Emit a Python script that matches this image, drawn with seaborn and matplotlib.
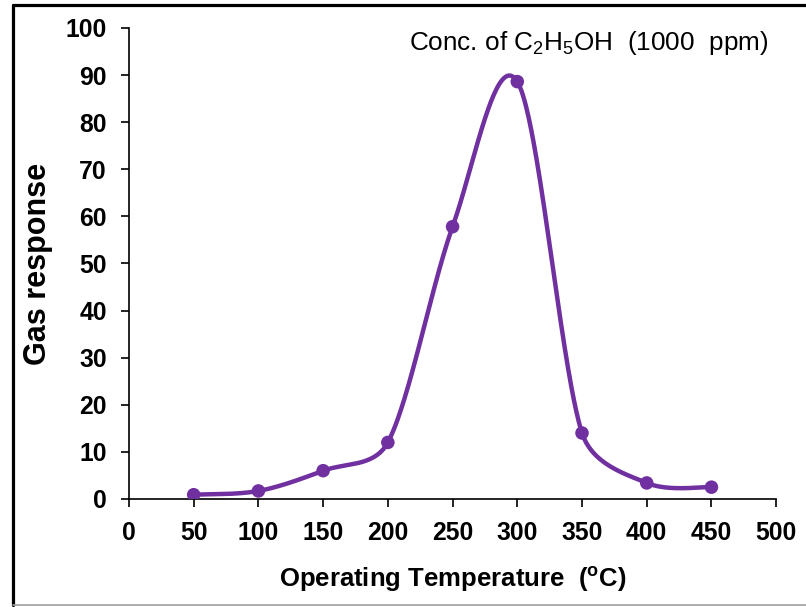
import numpy as np
import pandas as pd
import matplotlib
matplotlib.use("Agg")
import matplotlib.pyplot as plt
from matplotlib.lines import Line2D
import seaborn as sns

# Operating temperature (°C) and measured gas response
temperature = [50, 100, 150, 200, 250, 300, 350, 400, 450]
response = [0.9, 1.7, 6.0, 12.0, 57.8, 88.6, 14.0, 3.4, 2.5]

x_ticks = [0, 50, 100, 150, 200, 250, 300, 350, 400, 450, 500]
y_ticks = [0, 10, 20, 30, 40, 50, 60, 70, 80, 90, 100]

PURPLE = "#7030A0"

sns.set_theme(style="ticks")
plt.rcParams["font.family"] = ["Liberation Sans", "DejaVu Sans"]
plt.rcParams["mathtext.fontset"] = "custom"
plt.rcParams["mathtext.rm"] = "Liberation Sans"
plt.rcParams["mathtext.bf"] = "Liberation Sans:bold"
plt.rcParams["mathtext.it"] = "Liberation Sans:italic"

fig = plt.figure(figsize=(8.06, 6.07), dpi=100)
ax = fig.add_axes([0.160, 0.178, 0.803, 0.776])
ax.set_xlim(0, 500)
ax.set_ylim(0, 100)


def smooth_curve(xs, ys, ax, max_arm=0.4, n=80):
    """Catmull-Rom style Bezier smoothing in display space; each control
    arm is capped at a fraction of its own segment length."""
    pts = np.column_stack([xs, ys]).astype(float)
    disp = ax.transData.transform(pts)
    ext = np.vstack([disp[0], disp, disp[-1]])
    t = np.linspace(0, 1, n)[:, None]

    def cap(v, limit):
        length = np.hypot(*v)
        return v * (limit / length) if length > limit else v

    out = []
    for i in range(len(disp) - 1):
        p0, p1, p2, p3 = ext[i], ext[i + 1], ext[i + 2], ext[i + 3]
        d12 = np.hypot(*(p2 - p1))
        c1 = p1 + cap((p2 - p0) / 6.0, max_arm * d12)
        c2 = p2 - cap((p3 - p1) / 6.0, max_arm * d12)
        seg = ((1 - t) ** 3) * p1 + 3 * ((1 - t) ** 2) * t * c1 \
            + 3 * (1 - t) * t ** 2 * c2 + t ** 3 * p2
        out.append(seg if i == 0 else seg[1:])
    out = ax.transData.inverted().transform(np.vstack(out))
    return out[:, 0], out[:, 1]


sx, sy = smooth_curve(temperature, response, ax)
curve = pd.DataFrame({"x": sx, "y": sy})
points = pd.DataFrame({"temperature": temperature, "response": response})

sns.lineplot(data=curve, x="x", y="y", sort=False, color=PURPLE,
             linewidth=3.2, ax=ax, zorder=2)
sns.scatterplot(data=points, x="temperature", y="response", color=PURPLE,
                s=95, edgecolor="none", ax=ax, zorder=3)

ax.set_xlim(0, 500)
ax.set_ylim(0, 100)
ax.set_xticks(x_ticks)
ax.set_yticks(y_ticks)
ax.tick_params(axis="both", direction="out", length=6, width=1.2,
               color="black", labelsize=17.8, pad=10, labelcolor="black")
for lab in ax.get_xticklabels() + ax.get_yticklabels():
    lab.set_fontweight("bold")

for side in ("top", "right"):
    ax.spines[side].set_visible(False)
for side in ("left", "bottom"):
    ax.spines[side].set_color("black")
    ax.spines[side].set_linewidth(1.2)

ax.set_xlabel(r"Operating Temperature  ($\mathbf{^{o}}$C)", fontsize=18.5,
              fontweight="bold", color="black", labelpad=14)
ax.set_ylabel("Gas response", fontsize=22, fontweight="bold",
              color="black", labelpad=9)

ax.text(494, 96.8, r"Conc. of C$_2$H$_5$OH  (1000  ppm)", fontsize=18.8,
        ha="right", va="center", color="black")

# Outer frame lines of the figure
fig.add_artist(Line2D([0.0167, 0.0167], [0.0025, 0.9918], color="black",
                      linewidth=2.3, transform=fig.transFigure))
fig.add_artist(Line2D([0.0167, 1.0], [0.9918, 0.9918], color="black",
                      linewidth=2.3, transform=fig.transFigure))
fig.add_artist(Line2D([0.0167, 1.0], [0.0025, 0.0025], color="#a0a0a0",
                      linewidth=1.2, transform=fig.transFigure))

fig.savefig("out.png", dpi=100)
